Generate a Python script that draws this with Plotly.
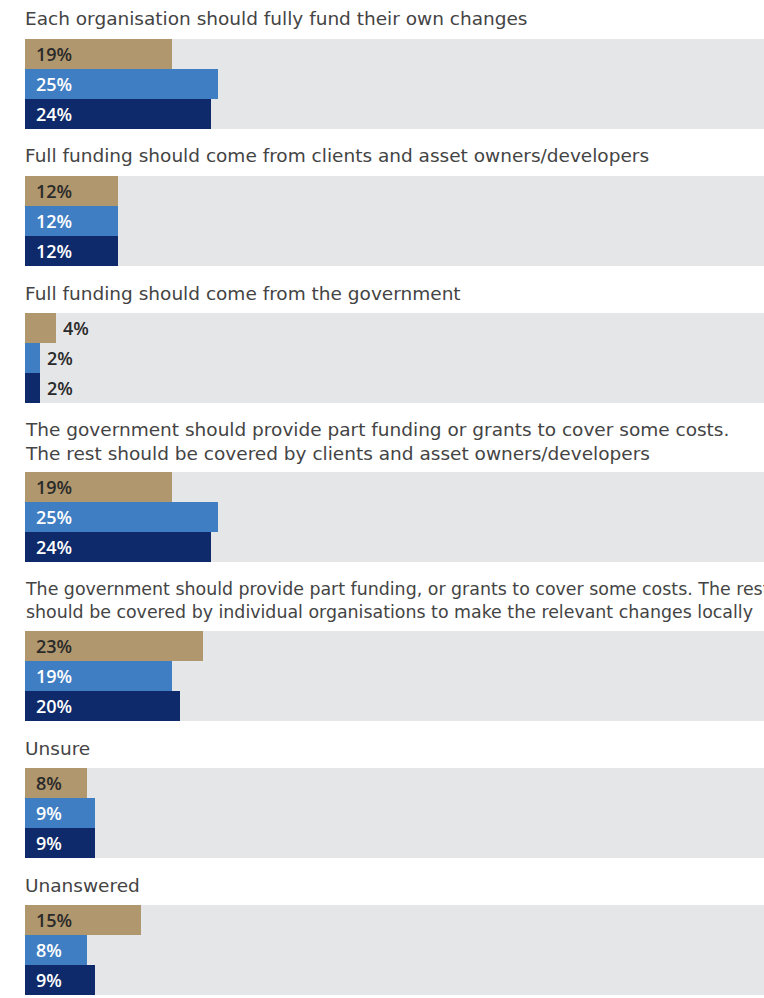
import plotly.graph_objects as go

# ---- data ----
questions = [
    "Each organisation should fully fund their own changes",
    "Full funding should come from clients and asset owners/developers",
    "Full funding should come from the government",
    "The government should provide part funding or grants to cover some costs.<br>The rest should be covered by clients and asset owners/developers",
    "The government should provide part funding, or grants to cover some costs. The rest<br>should be covered by individual organisations to make the relevant changes locally",
    "Unsure",
    "Unanswered",
]
series = ["Series 1", "Series 2", "Series 3"]
series1 = [19, 12, 4, 19, 23, 8, 15]
series2 = [25, 12, 2, 25, 19, 9, 8]
series3 = [24, 12, 2, 24, 20, 9, 9]

# ---- styles ----
colors = ["#b0976d", "#3f7ec3", "#0e2a6a"]
inside_font_colors = ["#2a2a2a", "#ffffff", "#ffffff"]
panel_bg = "#e5e6e8"
title_color = "#444444"
TITLE_FONT = "DejaVu Sans"
LABEL_FONT = "Open Sans"
title_sizes = [18.5, 18.5, 18.5, 18.5, 17.4, 18.5, 18.5]

W, H = 764, 998
left_px = 25
xmax = (W - left_px) / 7.73
panel_h = 90
gap = 8
line_h = 22

fig = go.Figure()
annotations = []
values = list(zip(series1, series2, series3))

cursor = -gap
for i, (q, vals) in enumerate(zip(questions, values)):
    n_lines = q.count("<br>") + 1
    top = cursor + gap + 39 + line_h * (n_lines - 1)
    bottom = top + panel_h
    cursor = bottom
    ax = "" if i == 0 else str(i + 1)
    dom_y = [1 - bottom / H, 1 - top / H]
    fig.add_trace(go.Bar(
        x=list(vals), y=series, orientation="h",
        marker=dict(color=colors, line=dict(width=0)),
        xaxis="x" + ax, yaxis="y" + ax,
        hoverinfo="x+y", showlegend=False,
    ))
    fig.layout["xaxis" + ax] = dict(domain=[left_px / W, 1], range=[0, xmax],
                                    showgrid=False, zeroline=False, showticklabels=False,
                                    fixedrange=True, anchor="y" + ax)
    fig.layout["yaxis" + ax] = dict(domain=dom_y, range=[2.5, -0.5], type="category",
                                    showgrid=False, zeroline=False, showticklabels=False,
                                    fixedrange=True, anchor="x" + ax)
    # title
    center = top - 20 - (line_h / 2) * (n_lines - 1)
    annotations.append(dict(
        text=q, xref="paper", yref="paper", x=left_px / W, y=1 - center / H,
        xanchor="left", yanchor="middle", align="left", showarrow=False,
        xshift=-2,
        font=dict(family=TITLE_FONT, size=title_sizes[i], color=title_color),
    ))
    # value labels
    for j, v in enumerate(vals):
        inside = v >= 5
        annotations.append(dict(
            text=f"{v}%", xref="x" + ax, yref="y" + ax,
            x=0 if inside else v, y=series[j],
            xanchor="left", yanchor="middle", showarrow=False,
            xshift=9 if inside else 5,
            font=dict(family=LABEL_FONT, size=18, color=inside_font_colors[j] if inside else "#2a2a2a",
                      weight=600),
        ))

fig.update_layout(
    width=W, height=H,
    margin=dict(l=0, r=0, t=0, b=0),
    paper_bgcolor="white",
    plot_bgcolor=panel_bg,
    bargap=0,
    annotations=annotations,
    font=dict(family=LABEL_FONT),
)

fig.write_html("out.html", config={"displayModeBar": False},
               post_script="document.body.style.margin='0';")
